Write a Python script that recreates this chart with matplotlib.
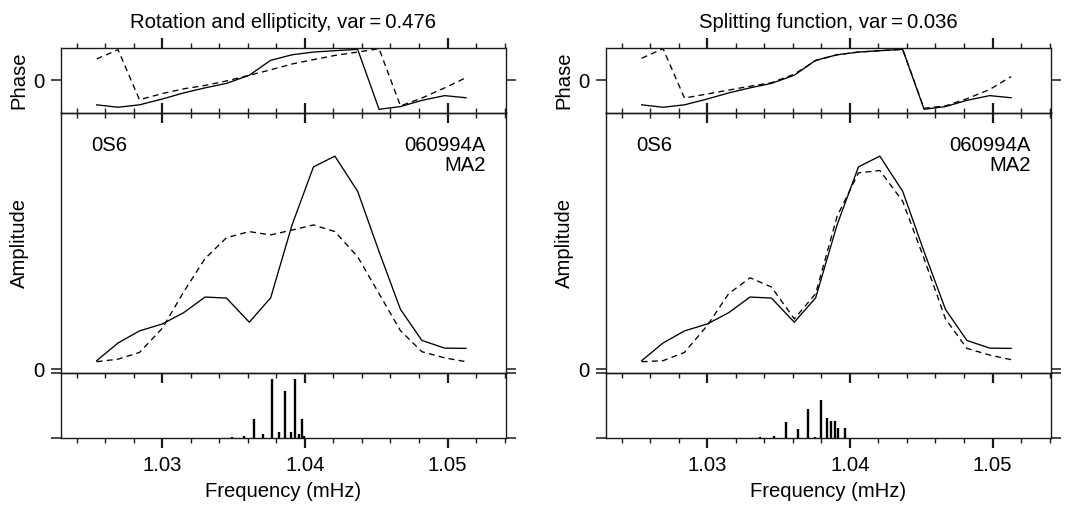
import matplotlib
matplotlib.use('Agg')
import matplotlib.pyplot as plt
from matplotlib.ticker import FixedLocator, MultipleLocator, NullFormatter

plt.rcParams['font.family'] = ['Liberation Sans', 'DejaVu Sans']
plt.rcParams['font.size'] = 14.6

# ---------------- data ----------------
freq = [1.0254, 1.0269, 1.0284, 1.0300, 1.0315, 1.0330, 1.0345, 1.0361, 1.0376,
        1.0391, 1.0406, 1.0421, 1.0437, 1.0452, 1.0467, 1.0482, 1.0498, 1.0513]

amp_obs = [0.033, 0.102, 0.149, 0.176, 0.220, 0.281, 0.277, 0.183, 0.278,
           0.562, 0.788, 0.830, 0.693, 0.458, 0.233, 0.112, 0.082, 0.081]
amp_rot = [0.029, 0.039, 0.065, 0.159, 0.301, 0.431, 0.512, 0.536, 0.523,
           0.542, 0.562, 0.536, 0.438, 0.294, 0.150, 0.068, 0.044, 0.029]
amp_split = [0.029, 0.033, 0.065, 0.170, 0.294, 0.356, 0.320, 0.196, 0.294,
             0.595, 0.765, 0.774, 0.654, 0.431, 0.196, 0.081, 0.055, 0.037]

phase_obs = [-2.56, -2.81, -2.56, -1.96, -1.33, -0.81, -0.35, 0.49, 2.03,
             2.60, 2.88, 3.02, 3.16, -3.02, -2.74, -2.10, -1.61, -1.83]
phase_rot = [2.17, 3.12, -2.03, -1.40, -0.91, -0.56, -0.10, 0.49, 1.05,
             1.65, 2.10, 2.53, 2.88, 3.23, -2.67, -1.86, -0.81, 0.24]
phase_split = [2.24, 3.23, -1.86, -1.44, -1.04, -0.64, -0.28, 0.60, 2.00,
               2.60, 2.88, 3.02, 3.16, -2.91, -2.67, -1.93, -0.98, 0.35]

sing_rot_f = [1.03491, 1.03575, 1.03645, 1.03707, 1.03768, 1.03818, 1.03864,
              1.03902, 1.03934, 1.03961, 1.03982, 1.03995]
sing_rot_a = [0.010, 0.036, 0.29, 0.067, 0.897, 0.087, 0.718, 0.087, 0.897,
              0.067, 0.29, 0.036]
sing_split_f = [1.03372, 1.03468, 1.03555, 1.03636, 1.03703, 1.03756, 1.03800,
                1.03840, 1.03866, 1.03898, 1.03914, 1.03964]
sing_split_a = [0.015, 0.030, 0.25, 0.13, 0.44, 0.015, 0.58, 0.30, 0.255,
                0.26, 0.15, 0.15]

titles = ["Rotation and ellipticity, var\u2009=\u20090.476",
          "Splitting function, var\u2009=\u20090.036"]
mode_label = "0S6"
event_label = "060994A"
station_label = "MA2"
xticks_major = [1.03, 1.04, 1.05]
xtick_labels = ["1.03", "1.04", "1.05"]

# ---------------- layout ----------------
W, H = 1068, 505
fig = plt.figure(figsize=(W / 100, H / 100), dpi=100)

def fx(px):
    return px / W

def fy(py):
    return (H - py) / H

panels = [
    dict(left=61, amp=amp_rot, ph=phase_rot, sf=sing_rot_f, sa=sing_rot_a, title=titles[0]),
    dict(left=606, amp=amp_split, ph=phase_split, sf=sing_split_f, sa=sing_split_a, title=titles[1]),
]
pw = 445
y_ph_top, y_ph_bot = 47.5, 112.5
y_main_bot = 372.5
y_low_bot = 438.0

dash = (0, (4.5, 3.2))
lw = 0.95
spine_c = '#1a1a1a'

def style(ax, top, bottom, labelbottom):
    ax.set_facecolor('none')
    ax.set_xlim(1.0229, 1.0541)
    ax.xaxis.set_major_locator(FixedLocator(xticks_major))
    ax.xaxis.set_minor_locator(MultipleLocator(0.002))
    ax.tick_params(axis='x', which='both', direction='out', top=top, bottom=bottom,
                   labelbottom=labelbottom, labeltop=False, color=spine_c)
    ax.tick_params(axis='x', which='major', length=7, width=1.6, pad=6)
    ax.tick_params(axis='x', which='minor', length=3.4, width=1.0)
    ax.tick_params(axis='y', which='major', direction='out', left=True, right=True,
                   labelleft=True, labelright=False, length=7, width=1.1, pad=5,
                   color=spine_c)
    for s in ax.spines.values():
        s.set_linewidth(1.0)
        s.set_color(spine_c)

for p in panels:
    L = p['left']
    # phase panel
    axp = fig.add_axes([fx(L), fy(y_ph_bot), fx(pw), (y_ph_bot - y_ph_top) / H])
    axp.plot(freq, phase_obs, color='black', lw=lw, ls='-')
    axp.plot(freq, p['ph'], color='black', lw=lw, ls=dash)
    axp.set_ylim(-3.35, 3.35)
    axp.set_yticks([0])
    axp.set_yticklabels(['0'])
    style(axp, True, True, False)

    # amplitude panel
    axm = fig.add_axes([fx(L), fy(y_main_bot), fx(pw), (y_main_bot - y_ph_bot) / H])
    axm.plot(freq, amp_obs, color='black', lw=lw, ls='-')
    axm.plot(freq, p['amp'], color='black', lw=lw, ls=dash)
    axm.set_ylim(-0.013, 1.0)
    axm.set_yticks([0])
    axm.set_yticklabels(['0'])
    style(axm, True, True, False)
    axm.text(0.069, 0.911, mode_label, transform=axm.transAxes, ha='left', va='top')
    axm.text(0.954, 0.911, event_label, transform=axm.transAxes, ha='right', va='top')
    axm.text(0.954, 0.776, station_label, transform=axm.transAxes, ha='right', va='baseline')

    # singlet panel
    axs = fig.add_axes([fx(L), fy(y_low_bot), fx(pw), (y_low_bot - y_main_bot) / H])
    axs.vlines(p['sf'], 0, p['sa'], color='black', lw=1.7)
    axs.set_ylim(0, 1)
    axs.set_yticks([0, 1])
    axs.yaxis.set_major_formatter(NullFormatter())
    style(axs, False, True, True)
    axs.set_xticklabels(xtick_labels)

    # labels
    cx = L + pw / 2
    fig.text(fx(cx), fy(28.5), p['title'], ha='center', va='baseline')
    fig.text(fx(cx), fy(491.5), "Frequency (mHz)", ha='center', va='center')
    fig.text(fx(L - 42.5), fy(80), "Phase", rotation=90, ha='center', va='center')
    fig.text(fx(L - 41.5), fy(242.5), "Amplitude", rotation=90, ha='center', va='center')

fig.savefig('out.png', dpi=100, facecolor='white')
